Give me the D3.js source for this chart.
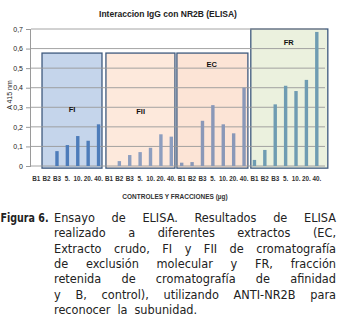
<!DOCTYPE html>
<html><head><meta charset="utf-8">
<script src="https://cdn.jsdelivr.net/npm/d3@7"></script>
<style>html,body{margin:0;padding:0;background:#fff;}</style>
</head><body>
<svg id="c" width="339" height="332"></svg>
<script>
const categories = ["B1","B2","B3","5.","10.","20.","40."];
const groups = ["FI","FII","EC","FR"];
const valuesFI  = [0, 0, 0.076, 0.107, 0.153, 0.129, 0.213];
const valuesFII = [0, 0.025, 0.056, 0.071, 0.093, 0.162, 0.150];
const valuesEC  = [0.017, 0.020, 0.231, 0.311, 0.213, 0.167, 0.400];
const valuesFR  = [0.031, 0.082, 0.315, 0.410, 0.383, 0.440, 0.685];
const yTicks = [0,0.1,0.2,0.3,0.4,0.5,0.6,0.7];
// annotation boxes, in category-index units and value units
const boxStart = [1.06, 7.21, 14.04, 21.15];
const boxEnd   = [6.83, 13.85, 20.87, 28.56];
const boxTop   = [0.577, 0.577, 0.577, 0.70];
const labelPos = [[3.95,0.285],[10.55,0.275],[17.4,0.515],[24.8,0.63]];
const barColors = ["#4d7cba","#8d9ebf","#8a98b8","#6f9cb2"];
const boxFills  = ["#c5d5eb","#fde9dc","#fce4d6","#ebf1de"];

const allValues = [valuesFI, valuesFII, valuesEC, valuesFR];
const data = [];
groups.forEach((g,gi)=>categories.forEach((c,ci)=>data.push({g,gi,c,key:g+"_"+ci,idx:gi*7+ci,v:allValues[gi][ci]})));

const svg = d3.select("#c");
const pL=31, pR=322, pT=29, pB=166;
const x = d3.scaleBand().domain(data.map(d=>d.key)).range([pL,pR]);
const xi = d3.scaleLinear().domain([0,data.length]).range([pL,pR]);
const y = d3.scaleLinear().domain([0,0.7]).range([pB,pT]);

// boxes
groups.forEach((g,i)=>{
  svg.append("rect").attr("x",xi(boxStart[i])).attr("y",y(boxTop[i]))
    .attr("width",xi(boxEnd[i])-xi(boxStart[i])).attr("height",y(-0.011)-y(boxTop[i]))
    .attr("fill",boxFills[i]).attr("stroke","#3f5a7e").attr("stroke-width",1.3);
});
// gridlines
svg.append("g").selectAll("line").data(yTicks).join("line")
  .attr("x1",pL).attr("x2",325).attr("y1",d=>y(d)).attr("y2",d=>y(d))
  .attr("stroke","#9a9a9a").attr("stroke-width",0.9);
// y axis
const ya = svg.append("g").attr("transform",`translate(${pL},0)`)
  .call(d3.axisLeft(y).tickValues(yTicks).tickSize(5).tickFormat(d=>d===0?"0":d3.format(".1f")(d).replace(".",",")));
ya.select(".domain").attr("stroke","#9a9a9a").attr("d",`M-0.5,${y(0.7)}V${y(0)}`);
ya.selectAll(".tick line").attr("stroke","#9a9a9a");
ya.selectAll("text").attr("font-family","Liberation Sans, Arial, sans-serif").attr("font-size",7).attr("fill","#222").attr("x",-8);

// bars
const bw = 3.4;
svg.append("g").selectAll("rect").data(data.filter(d=>d.v>0)).join("rect")
  .attr("x",d=>x(d.key)+x.bandwidth()/2-bw/2).attr("width",bw)
  .attr("y",d=>y(d.v)).attr("height",d=>y(0)-y(d.v))
  .attr("fill",d=>barColors[d.gi]);

// x labels
const xa = svg.append("g").attr("transform",`translate(0,${pB})`)
  .call(d3.axisBottom(x).tickSize(0).tickFormat(k=>data.find(d=>d.key===k).c));
xa.select(".domain").remove();
xa.selectAll("text").attr("font-family","Liberation Sans, Arial, sans-serif").attr("font-size",6.3)
  .attr("font-weight","bold").attr("fill","#333").attr("dy","0.71em").attr("y",11);

// group labels
groups.forEach((g,i)=>{
  svg.append("text").attr("x",xi(labelPos[i][0])).attr("y",y(labelPos[i][1])).attr("text-anchor","middle")
   .attr("dominant-baseline","middle").attr("font-family","Liberation Sans, Arial, sans-serif")
   .attr("font-size",7.5).attr("font-weight","bold").attr("fill","#111").text(g);
});

// title and axis titles
svg.append("text").attr("x",168).attr("y",17).attr("text-anchor","middle")
  .attr("font-family","Liberation Sans, Arial, sans-serif").attr("font-size",8.5).attr("font-weight","bold").attr("fill","#222")
  .text("Interaccion IgG con NR2B (ELISA)");
svg.append("text").attr("transform","translate(12,95) rotate(-90)").attr("text-anchor","middle")
  .attr("font-family","Liberation Sans, Arial, sans-serif").attr("font-size",7).attr("fill","#222").text("A 415 nm");
svg.append("text").attr("x",175).attr("y",199).attr("text-anchor","middle")
  .attr("font-family","Liberation Sans, Arial, sans-serif").attr("font-size",6.5).attr("font-weight","bold").attr("fill","#333")
  .text("CONTROLES Y FRACCIONES  (µg)");

// caption
const capLines = ["Ensayo de ELISA. Resultados de ELISA","realizado a diferentes extractos (EC,",
 "Extracto crudo, FI y FII de cromatografía","de exclusión molecular y FR, fracción",
 "retenida de cromatografía de afinidad","y B, control), utilizando ANTI-NR2B para","reconocer la subunidad."];
const capX0 = 54, capX1 = 336, capY0 = 222, capDy = 15.3;
const font = "DejaVu Sans, sans-serif";
const measure = svg.append("text").attr("font-family",font).attr("font-stretch","condensed").attr("font-size",10).attr("visibility","hidden");
function w(s,fs,bold){measure.attr("font-size",fs).attr("font-weight",bold?"bold":"normal").text(s);return measure.node().getComputedTextLength();}
const capFS = Math.min(12.6, 10*(capX1-capX0)/w(capLines[2],10));
svg.append("text").attr("x",0.5).attr("y",capY0)
  .attr("font-family",font).attr("font-stretch","condensed").attr("font-size",capFS).attr("font-weight","bold").attr("fill","#222")
  .attr("textLength",48).attr("lengthAdjust","spacingAndGlyphs").text("Figura 6.");
capLines.forEach((line,li)=>{
  const words=line.split(" ");
  const ws=words.map(s=>w(s,capFS));
  const tot=ws.reduce((a,b)=>a+b,0);
  const last = li===capLines.length-1;
  const gap = last? capFS*0.55 : (capX1-capX0-tot)/(words.length-1);
  const t=svg.append("text").attr("y",capY0+li*capDy).attr("font-family",font).attr("font-stretch","condensed")
    .attr("font-size",capFS).attr("fill","#222");
  let cx=capX0;
  words.forEach((wd,i)=>{t.append("tspan").attr("x",cx).text(wd);cx+=ws[i]+gap;});
});
measure.remove();
</script>
</body></html>
